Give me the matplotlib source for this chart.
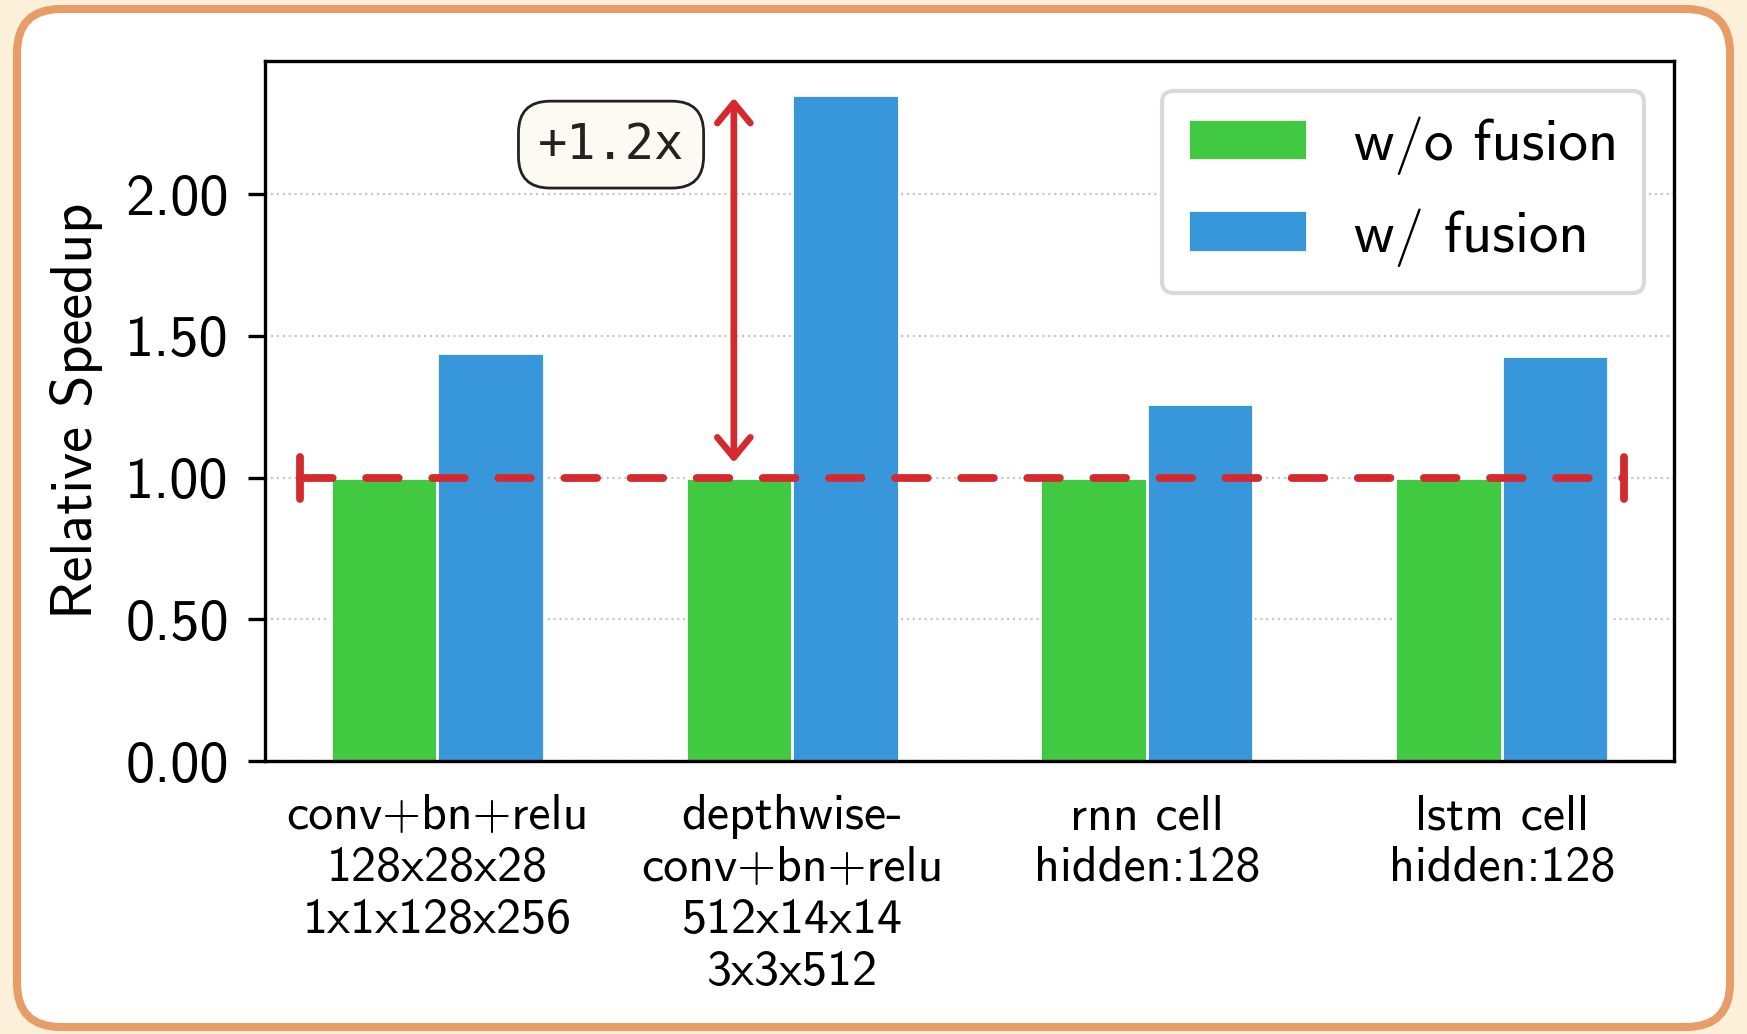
import matplotlib
matplotlib.use("Agg")
import matplotlib.pyplot as plt
import numpy as np
from matplotlib.patches import FancyBboxPatch, FancyArrowPatch
from matplotlib.markers import MarkerStyle
from matplotlib.ticker import FormatStrFormatter

# ---------------- data ----------------
categories = ["conv+bn+relu\n128x28x28\n1x1x128x256",
              "depthwise-\nconv+bn+relu\n512x14x14\n3x3x512",
              "rnn cell\nhidden:128",
              "lstm cell\nhidden:128"]
series_names = ["w/o fusion", "w/ fusion"]
without_fusion = [1.0, 1.0, 1.0, 1.0]
with_fusion = [1.44, 2.35, 1.26, 1.43]
yticks = [0.0, 0.5, 1.0, 1.5, 2.0]
baseline = 1.0
baseline_span = (-0.386, 3.344)
arrow_x = 0.836
arrow_top = 2.34
annotation_text = "+1.2x"
annotation_pos = (0.49, 2.175)

GREEN = '#41c941'
BLUE = '#3897db'
RED = '#d42a2f'

plt.rcParams['font.family'] = ['cmss10', 'DejaVu Sans']
plt.rcParams['axes.unicode_minus'] = False

fig = plt.figure(figsize=(8.735, 5.17), dpi=200)
fig.patch.set_facecolor('#fdf0da')
panel = FancyBboxPatch((0.085, 0.035), 8.565, 5.09,
                       boxstyle="round,pad=0,rounding_size=0.22",
                       transform=fig.dpi_scale_trans, facecolor='white',
                       edgecolor='#e89c68', linewidth=2.9, zorder=-1)
fig.add_artist(panel)

ax = fig.add_axes([0.1517, 0.2640, 0.8065, 0.677])

x = np.arange(len(categories))
w = 0.3
ax.bar(x - w / 2, without_fusion, w, color=GREEN, edgecolor='white',
       linewidth=1.0, label=series_names[0], zorder=2)
ax.bar(x + w / 2, with_fusion, w, color=BLUE, edgecolor='white',
       linewidth=1.0, label=series_names[1], zorder=2)

ax.set_xlim(-0.485, 3.485)
ax.set_ylim(0, 2.47)

# baseline dashed line with end caps
ax.plot(list(baseline_span), [baseline, baseline], color=RED, lw=2.8,
        linestyle=(0, (4.2, 4.3)), dash_capstyle='round', zorder=4)
ax.plot(list(baseline_span), [baseline, baseline], linestyle='none',
        marker=MarkerStyle('|', capstyle='round'), markersize=15,
        mew=2.8, color=RED, zorder=4)

# double-headed arrow
arr = FancyArrowPatch((arrow_x, baseline), (arrow_x, arrow_top),
                      arrowstyle='<->,head_length=0.4,head_width=0.33',
                      mutation_scale=18, lw=2.4, color=RED,
                      shrinkA=5.4, shrinkB=0, capstyle='round',
                      joinstyle='round', zorder=5)
ax.add_patch(arr)

ax.text(annotation_pos[0], annotation_pos[1], annotation_text,
        family='DejaVu Sans Mono', fontsize=17.5, ha='center', va='center',
        color='#222222', zorder=6,
        bbox=dict(boxstyle='round,pad=0.4,rounding_size=0.65',
                  fc='#fcfaf3', ec='#222222', lw=1.0))

ax.set_xticks(x)
ax.set_xticklabels(categories)
for tl in ax.get_xticklabels():
    tl.set_linespacing(1.2)
ax.set_yticks(yticks)
ax.yaxis.set_major_formatter(FormatStrFormatter('%.2f'))
ax.tick_params(axis='y', labelsize=21, length=6, width=1.2, pad=7)
ax.tick_params(axis='x', labelsize=18, length=0, pad=12)
for s in ax.spines.values():
    s.set_linewidth(1.2)

ax.set_ylabel('Relative Speedup', fontsize=21, labelpad=8)
ax.yaxis.grid(True, linestyle=':', color='#c8c8c8', lw=0.8)
ax.set_axisbelow(True)

leg = ax.legend(loc='upper right', fontsize=21.3, fancybox=True,
                framealpha=1, edgecolor='#d9d9d9', borderpad=0.44,
                labelspacing=0.56)
leg.get_frame().set_linewidth(1.5)

fig.savefig('out.png', dpi=200, facecolor=fig.get_facecolor())
